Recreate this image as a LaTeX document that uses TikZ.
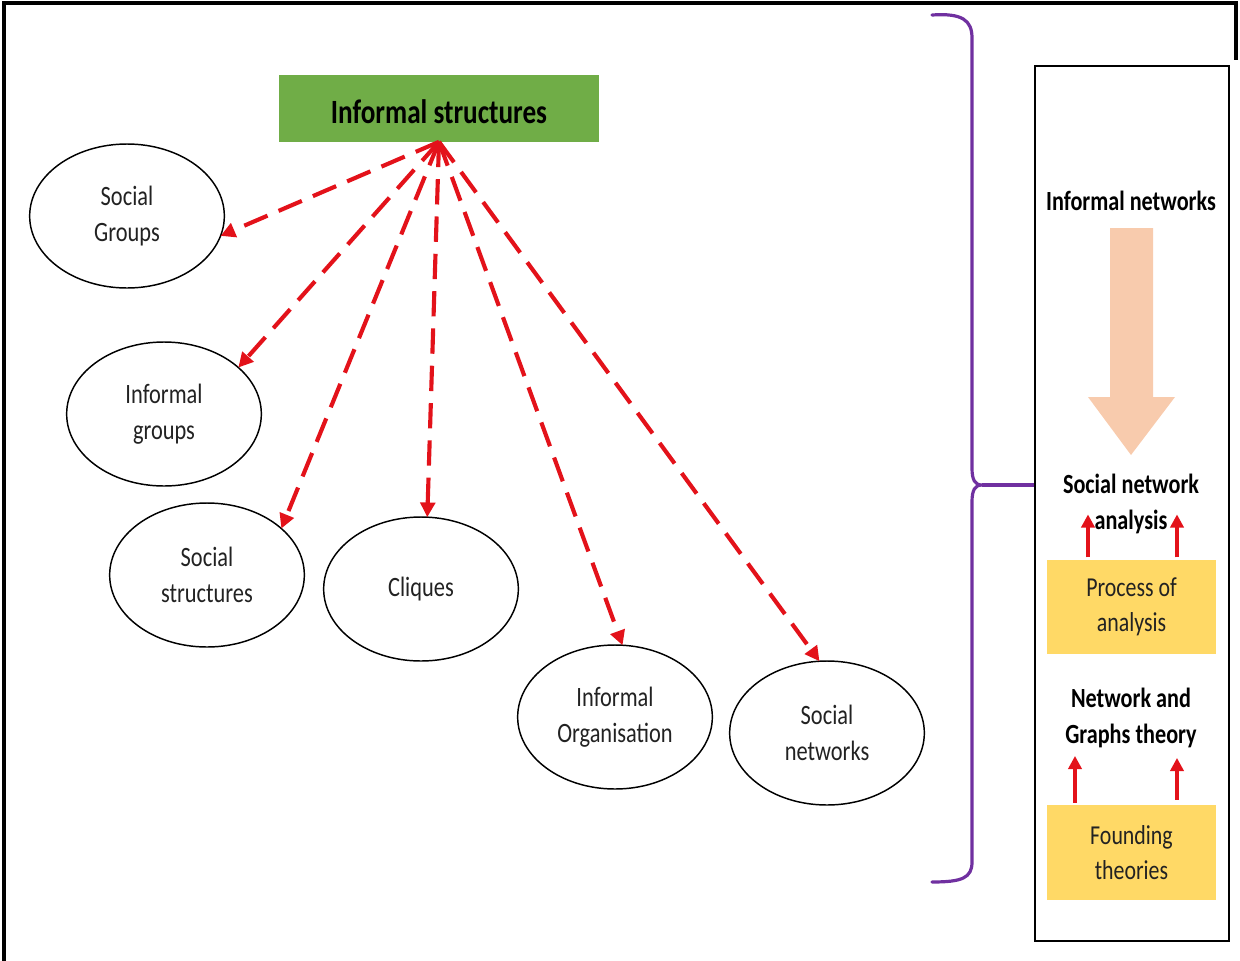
\documentclass[tikz,border=0pt]{standalone}
\usepackage{fontspec}
\setmainfont{Carlito}[FakeStretch=0.8]
\usetikzlibrary{arrows.meta,shapes.geometric,calc}
\definecolor{leafgreen}{HTML}{70AD47}
\definecolor{peach}{HTML}{F8CBAD}
\definecolor{gold}{HTML}{FFD966}
\definecolor{braceviolet}{HTML}{7030A0}
\definecolor{linkred}{HTML}{E3121A}
\definecolor{inkgray}{HTML}{222222}
\begin{document}
\begin{tikzpicture}[x=0.75pt,y=-0.75pt,
  topic/.style={ellipse, draw=black, line width=1.1pt, fill=white,
    minimum width=146pt, minimum height=108pt, inner sep=0pt, outer sep=0pt,
    align=center, text=inkgray, font=\fontsize{21}{27}\selectfont},
  headbox/.style={rectangle, fill=leafgreen, minimum width=240pt,
    minimum height=50pt, inner sep=0pt, outer sep=0pt,
    text height=23pt, text depth=0pt,
    font=\bfseries\fontsize{25.5}{30}\selectfont, text=black},
  stagebox/.style={rectangle, fill=gold, minimum width=127pt,
    minimum height=71pt, inner sep=0pt, align=center, text=inkgray,
    font=\fontsize{20.5}{26}\selectfont},
  stagelabel/.style={align=center, text=black, inner sep=0pt,
    font=\bfseries\fontsize{20.8}{27}\selectfont},
  link/.style={linkred, line width=3.1pt, dash pattern=on 19pt off 9pt,
    -{Triangle[length=11pt,width=11pt]}},
  rise/.style={linkred, line width=2.6pt,
    -{Triangle[length=10pt,width=10pt]}}]
\useasboundingbox (0,0) rectangle (1240,961);

% outer frame
\draw[line width=3pt] (4,961) -- (4,3) -- (1236,3) -- (1236,60);

% central heading and the concepts it covers
\node[headbox] (head) at (439,108.5) {Informal structures};
\node[topic] (sgroups) at (127,216) {Social\\Groups};
\node[topic] (igroups) at (164,414) {Informal\\groups};
\node[topic] (sstruct) at (207,575) {Social\\structures};
\node[topic] (cliques) at (421,589) {Cliques};
\node[topic] (iorg) at (615,717) {Informal\\Organisation};
\node[topic] (snet) at (827,733) {Social\\networks};

\draw[link] (head.south) -- (sgroups.-12);
\draw[link] (head.south) -- (igroups.32);
\draw[link] (head.south) -- (sstruct.32);
\draw[link] (head.south) -- (cliques.85);
\draw[link] (head.south) -- (iorg.84);
\draw[link] (head.south) -- (snet.96);

% right-hand panel
\node[draw=black, line width=1.2pt, minimum width=145.5pt,
  minimum height=656pt, inner sep=0pt] (panel) at (1132,503.5) {};

% curly brace joining the panel
\coordinate (bracetip) at (982,485);
\draw[braceviolet, line width=2.4pt, line cap=round]
  (932,15) .. controls (962,13) and (972,20) .. (972,38) -- (972,468)
  .. controls (972,480) and (975,485) .. (bracetip)
  .. controls (975,485) and (972,490) .. (972,502) -- (972,862)
  .. controls (972,878) and (962,882) .. (932,882);
\draw[braceviolet, line width=2.4pt] (bracetip) -- (bracetip -| panel.west);

\node[stagelabel] (infnet) at (1131,201) {Informal networks};
\fill[peach] (1110,228) -- (1153,228) -- (1153,397) -- (1175,397)
  -- (1131,455) -- (1088,397) -- (1110,397) -- cycle;
\node[stagelabel] (sna) at (1131,504) {Social network\\analysis};
\node[stagebox] (proc) at (1131.5,607) {Process of\\analysis};
\node[stagelabel] (ngt) at (1131,718) {Network and\\Graphs theory};
\node[stagebox] (found) at (1131.5,852.5) {Founding\\theories};

\draw[rise] ($(proc.north)+(-43.5,-2)$) -- ++(0,-43);
\draw[rise] ($(proc.north)+(45.5,-2)$) -- ++(0,-43);
\draw[rise] ($(found.north)+(-56.5,-2)$) -- ++(0,-47);
\draw[rise] ($(found.north)+(45.5,-5)$) -- ++(0,-42);
\end{tikzpicture}
\end{document}
